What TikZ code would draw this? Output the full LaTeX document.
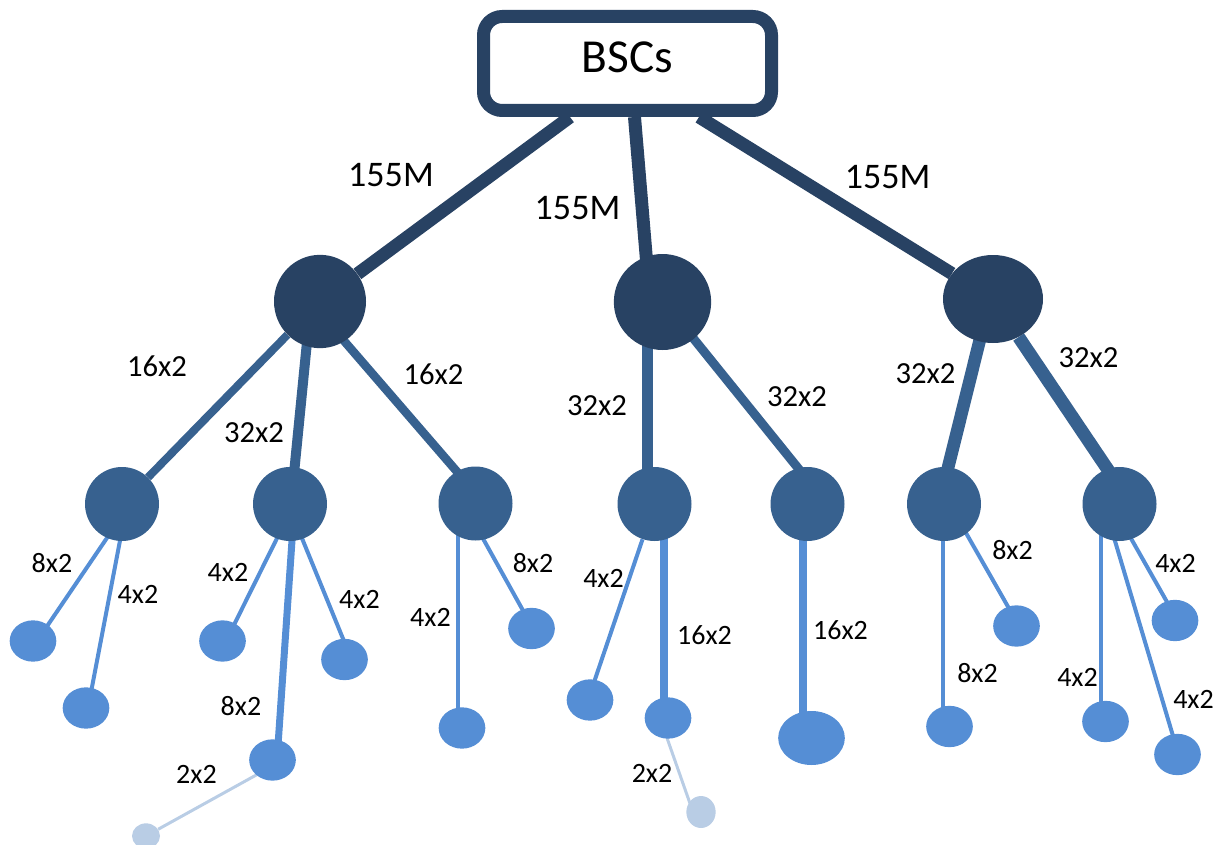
\documentclass[tikz,border=0pt]{standalone}
\usepackage{fontspec}
\setmainfont{Carlito}
\usetikzlibrary{calc,backgrounds,shapes.geometric}

\definecolor{navy}{HTML}{284263}
\definecolor{midblue}{HTML}{37618F}
\definecolor{leafblue}{HTML}{558ED5}
\definecolor{paleblue}{HTML}{B9CDE5}

\tikzset{
  hub/.style={ellipse, fill=navy, inner sep=0pt},
  node2/.style={circle, fill=midblue, inner sep=0pt, minimum size=55.5pt},
  leaf/.style={ellipse, fill=leafblue, inner sep=0pt, minimum width=35pt, minimum height=31pt},
  tip/.style={ellipse, fill=paleblue, inner sep=0pt},
  trunk/.style={draw=navy, line width=9.75pt},
  branch/.style={draw=midblue},
  twig/.style={draw=leafblue, line width=3pt},
  wisp/.style={draw=paleblue, line width=2.25pt},
  bigrate/.style={inner sep=0pt, font=\fontsize{27}{30}\selectfont},
  midrate/.style={inner sep=0pt, font=\fontsize{23}{26}\selectfont},
  smallrate/.style={inner sep=0pt, font=\fontsize{21}{24}\selectfont},
}

\begin{document}
\begin{tikzpicture}[x=0.75pt, y=-0.75pt]
\useasboundingbox (0,0) rectangle (1221,845);

% controller box
\node[draw=navy, line width=9.75pt, rounded corners=14pt, fill=white,
      minimum width=216pt, minimum height=70.5pt, inner sep=0pt,
      text height=23pt, text depth=9.75pt,
      font=\fontsize{35.5}{40}\selectfont] (bsc) at (627.5,63.5) {BSCs};

% first level hubs
\node[hub, minimum width=69pt, minimum height=70pt] (h1) at (320,301.5) {};
\node[hub, minimum width=73pt, minimum height=72pt] (h2) at (662.5,302) {};
\node[hub, minimum width=75pt, minimum height=66pt] (h3) at (993,299) {};

% second level
\node[node2] (A) at (122,504) {};
\node[node2] (B) at (290,504) {};
\node[node2] (C) at (475.5,503.5) {};
\node[node2] (D) at (654.5,504) {};
\node[node2] (E) at (807.5,504) {};
\node[node2] (F) at (944,504) {};
\node[node2] (G) at (1119.5,504) {};

% third level
\node[leaf] (a1) at (33,641) {};
\node[leaf] (a2) at (86,708) {};
\node[leaf] (b1) at (222.5,641) {};
\node[leaf] (b2) at (344.5,659.5) {};
\node[leaf] (b3) at (272.5,760) {};
\node[leaf] (c1) at (462,728) {};
\node[leaf] (c2) at (531.5,628.5) {};
\node[leaf] (d1) at (590,700) {};
\node[leaf] (d2) at (668,718) {};
\node[leaf, minimum width=50pt, minimum height=40.5pt] (e1) at (811.5,738) {};
\node[leaf] (f1) at (949.5,726.5) {};
\node[leaf] (f2) at (1016.5,626) {};
\node[leaf] (g1) at (1105.5,721.5) {};
\node[leaf] (g2) at (1177.5,754.5) {};
\node[leaf] (g3) at (1175,620.5) {};

% fourth level
\node[tip, minimum width=21pt, minimum height=19pt] (b4) at (146,836) {};
\node[tip, minimum width=22pt, minimum height=24pt] (d3) at (701,812) {};

% links
\begin{pgfonlayer}{background}
  \draw[trunk] ($(bsc.south)+(-57.5,0)$) -- (h1);
  \draw[trunk] ($(bsc.south)+(7,0)$) -- ($(h2)+(-12.5,0)$);
  \draw[trunk] ($(bsc.south)+(71.5,0)$) -- (h3);

  \draw[branch, line width=6pt]    (h1) -- (A);
  \draw[branch, line width=7.5pt]  ($(h1)+(-9,0)$) -- ($(B)+(1,0)$);
  \draw[branch, line width=6.4pt]  ($(h1)+(-10,0)$) -- ($(C)+(9,0)$);
  \draw[branch, line width=8.25pt] ($(h2)+(-15.5,0)$) -- ($(D)+(-7.5,0)$);
  \draw[branch, line width=6.75pt] ($(h2)+(1.5,0)$) -- ($(E)+(19.5,0)$);
  \draw[branch, line width=9.5pt]  ($(h3)+(-3,0)$) -- ($(F)+(-5,0)$);
  \draw[branch, line width=9.75pt] (h3) -- ($(G)+(11.5,0)$);

  \draw[twig] ($(A)+(8,0)$) -- ($(a1)+(4,0)$);
  \draw[twig] ($(A)+(5,0)$) -- ($(a2)+(2,0)$);
  \draw[twig] ($(B)+(4,0)$) -- ($(b1)+(3.5,0)$);
  \draw[twig] ($(B)+(-2,0)$) -- ($(b2)+(7,0)$);
  \draw[twig, line width=5.25pt] ($(B)+(4.5,0)$) -- ($(b3)+(4.5,0)$);
  \draw[twig] ($(C)+(-17.5,0)$) -- ($(c1)+(-4,0)$);
  \draw[twig] ($(C)+(-12,0)$) -- ($(c2)+(1.5,0)$);
  \draw[twig] (D) -- ($(d1)+(-2,0)$);
  \draw[twig, line width=6pt] ($(D)+(9.5,0)$) -- ($(d2)+(-4,0)$);
  \draw[twig, line width=6.4pt] ($(E)+(-4.5,0)$) -- ($(e1)+(-8.5,0)$);
  \draw[twig] ($(F)+(-1.5,0)$) -- ($(f1)+(-7,0)$);
  \draw[twig] ($(F)+(5.5,0)$) -- ($(f2)+(2.5,0)$);
  \draw[twig] ($(G)+(-19,0)$) -- ($(g1)+(-5,0)$);
  \draw[twig] ($(G)+(-15.5,0)$) -- ($(g2)+(1,0)$);
  \draw[twig] ($(G)+(-8,0)$) -- ($(g3)+(2.5,0)$);

  \draw[wisp] ($(b3)+(0,6)$) -- (b4);
  \draw[wisp] ($(d2)+(-8,0)$) -- ($(d3)+(-8,0)$);
\end{pgfonlayer}

% link rates
\node[bigrate] (r1) at (391,175) {155M};
\node[bigrate] (r2) at (577.5,208.5) {155M};
\node[bigrate] (r3) at (887.5,177.5) {155M};

\node[midrate] (r4) at (157,366) {16x2};
\node[midrate] (r5) at (254,433) {32x2};
\node[midrate] (r6) at (433.5,374.5) {16x2};
\node[midrate] (r7) at (597,406) {32x2};
\node[midrate] (r8) at (797,397) {32x2};
\node[midrate] (r9) at (925.5,374) {32x2};
\node[midrate] (r10) at (1088.5,357.5) {32x2};

\node[smallrate] (s1) at (52,563) {8x2};
\node[smallrate] (s2) at (138,594) {4x2};
\node[smallrate] (s3) at (228,572.5) {4x2};
\node[smallrate] (s4) at (359.5,599) {4x2};
\node[smallrate] (s5) at (241,706.5) {8x2};
\node[smallrate] (s6) at (196.5,774) {2x2};
\node[smallrate] (s7) at (533,563) {8x2};
\node[smallrate] (s8) at (430.5,617.5) {4x2};
\node[smallrate] (s9) at (603.5,578.5) {4x2};
\node[smallrate] (s10) at (704.5,635.5) {16x2};
\node[smallrate] (s11) at (652,773.5) {2x2};
\node[smallrate] (s12) at (840.5,630.5) {16x2};
\node[smallrate] (s13) at (1012.5,550.5) {8x2};
\node[smallrate] (s14) at (977.5,673) {8x2};
\node[smallrate] (s15) at (1175.5,563.5) {4x2};
\node[smallrate] (s16) at (1077.5,677) {4x2};
\node[smallrate] (s17) at (1193.5,699) {4x2};
\end{tikzpicture}
\end{document}
